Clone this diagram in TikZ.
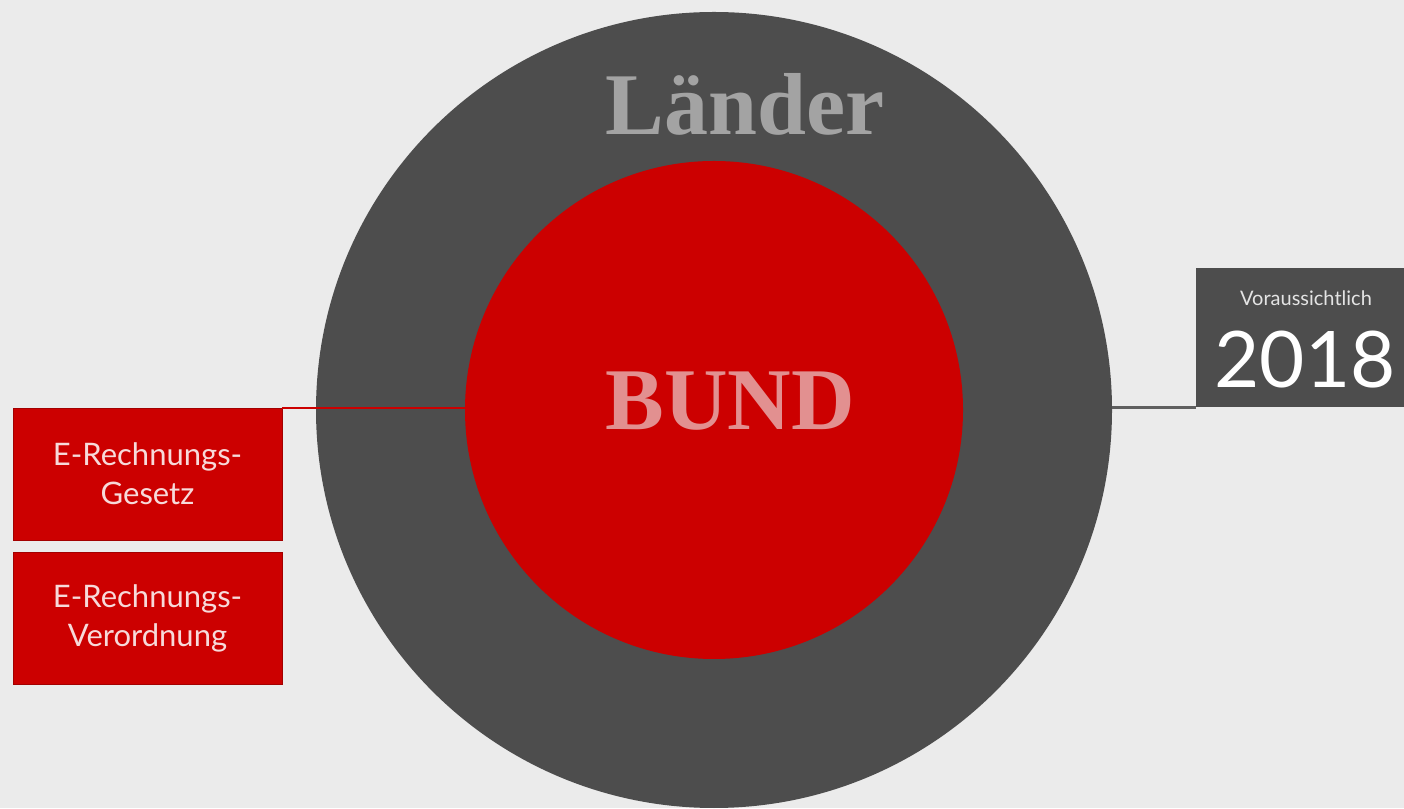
\documentclass[tikz,border=0pt]{standalone}
\usepackage{fontspec}
\setmainfont{Liberation Serif}
\newfontfamily\boxfont{Lato}
\usepackage{tikz}
\usetikzlibrary{positioning,calc}

\definecolor{bg}{HTML}{EBEBEB}
\definecolor{dunkel}{HTML}{4D4D4D}
\definecolor{rot}{HTML}{CC0000}
\definecolor{grautext}{HTML}{A3A3A3}
\definecolor{rosa}{HTML}{E29090}
\definecolor{hell}{HTML}{F7DADA}

\begin{document}
\begin{tikzpicture}[
    x=1pt, y=1pt,
    kreis/.style={circle, inner sep=0pt, outer sep=0pt},
    rotbox/.style={rectangle, fill=rot, draw=rot!80!black, line width=0.6pt,
        minimum width=269pt, minimum height=132pt, inner sep=0pt,
        font=\boxfont\fontsize{31}{39}\selectfont, text=hell, align=center},
    titel/.style={font=\bfseries\fontsize{88}{88}\selectfont, anchor=base},
    verbinder/.style={line width=2.2pt}
]
\fill[bg] (0,0) rectangle (1404,808);
\useasboundingbox (0,0) rectangle (1404,808);
% Kreise
\node[kreis, fill=dunkel, minimum size=796pt] (laender) at (714,398) {};
\node[kreis, fill=rot, minimum size=498pt] (bund) at (714,398) {};
\node[titel, text=grautext] (laendertext) at (745,673) {Länder};
\node[titel, text=rosa] (bundtext) at (730,378) {BUND};
% Kästen links
\node[rotbox] (gesetz) at (147.5,334) {E-Rechnungs-\\Gesetz};
\node[rotbox, below=12pt of gesetz] (verordnung) {E-Rechnungs-\\Verordnung};
% Kasten rechts
\node[rectangle, fill=dunkel, minimum width=208pt, minimum height=139pt,
      inner sep=0pt] (jahr) at (1300,470.5) {};
\node[font=\boxfont\fontsize{20}{20}\selectfont, text=white!85!dunkel]
      (vorauss) at (1306,510) {Voraussichtlich};
\node[font=\boxfont\fontsize{78}{78}\selectfont, text=white, anchor=base]
      (zahl) at (1305,420) {2018};
% Verbindungen
\draw[verbinder, rot] (gesetz.north east) -- (gesetz.north east -| bund.west);
\draw[verbinder, dunkel!90!white, line width=3pt]
      (laender.east |- jahr.south west) -- (jahr.south west);
\end{tikzpicture}
\end{document}
